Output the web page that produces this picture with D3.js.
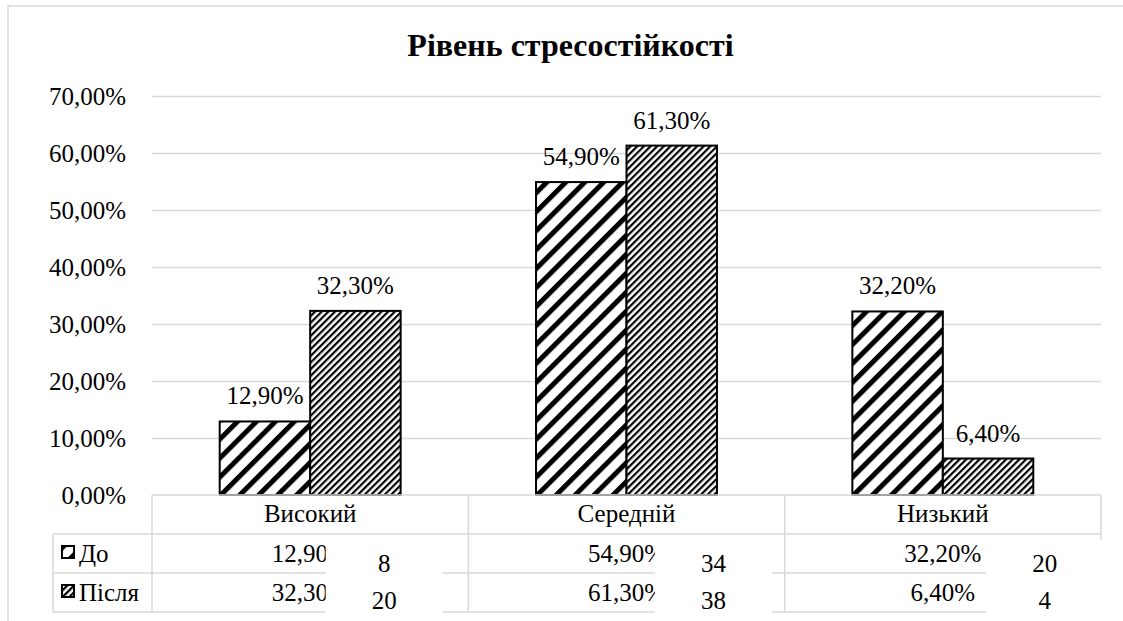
<!DOCTYPE html>
<html>
<head>
<meta charset="utf-8">
<script src="https://cdn.jsdelivr.net/npm/d3@7"></script>
</head>
<body style="margin:0">
<svg id="chart" width="1123" height="621"></svg>
<script>
// Рівень стресостійкості: частки респондентів до та після
const categories = ["Високий", "Середній", "Низький"];
const seriesNames = ["До", "Після"];
const valuesBefore = [0.129, 0.549, 0.322];
const valuesAfter = [0.323, 0.613, 0.064];
// кількість осіб у кожній групі (підписи поверх таблиці)
const countsBefore = [8, 34, 20];
const countsAfter = [20, 38, 4];
const yTickValues = [0, 0.1, 0.2, 0.3, 0.4, 0.5, 0.6, 0.7];
const titleText = "Рівень стресостійкості";

const series = [valuesBefore, valuesAfter];
const counts = [countsBefore, countsAfter];

const uaLocale = d3.formatLocale({ decimal: ",", thousands: " ", grouping: [3], currency: ["", " ₴"] });
const fmtPct = uaLocale.format(".2%");

const SERIF = '"Liberation Serif"';
const svg = d3.select("#chart");

// layout
const plot = { left: 152, right: 1101, top: 96, bottom: 495 };
const rowH = 39;
const legendLeft = 53;
const grid = "#d9d9d9";
const fontSize = 25;

// hatch patterns (upward diagonals)
const defs = svg.append("defs");
function hatch(id, period, stroke) {
  const p = defs.append("pattern")
    .attr("id", id)
    .attr("patternUnits", "userSpaceOnUse")
    .attr("width", period).attr("height", period)
    .attr("patternTransform", "rotate(45)");
  p.append("rect").attr("width", period).attr("height", period).attr("fill", "#fff");
  p.append("rect").attr("x", 0).attr("y", 0).attr("width", stroke).attr("height", period).attr("fill", "#000");
}
hatch("hatchWide", 13.4, 5);
hatch("hatchNarrow", 4.7, 2.2);
const fills = ["url(#hatchWide)", "url(#hatchNarrow)"];

// chart frame: only the left and top edges fall inside the page
svg.append("path")
  .attr("d", "M8,621V6H1123")
  .attr("fill", "none").attr("stroke", grid).attr("stroke-width", 1.5);

// scales
const x0 = d3.scaleBand().domain(categories).range([plot.left, plot.right])
  .paddingInner(0.428).paddingOuter(0.214);
const x1 = d3.scaleBand().domain(seriesNames).range([0, x0.bandwidth()]);
const y = d3.scaleLinear().domain([0, 0.7]).range([plot.bottom, plot.top]);

// gridlines
const gridAxis = d3.axisLeft(y).tickValues(yTickValues.slice(1))
  .tickSize(-(plot.right - plot.left)).tickFormat("");
const gg = svg.append("g").attr("transform", `translate(${plot.left},0)`).call(gridAxis);
gg.select(".domain").remove();
gg.selectAll("line").attr("stroke", grid).attr("stroke-width", 1.5);

// y tick labels
const yAxis = d3.axisLeft(y).tickValues(yTickValues).tickSize(0).tickPadding(0).tickFormat(fmtPct);
const ya = svg.append("g").attr("transform", `translate(126,0)`).call(yAxis);
ya.select(".domain").remove();
ya.attr("font-size", fontSize).attr("font-family", null);

// bars
const groups = svg.append("g").selectAll("g")
  .data(categories).join("g")
  .attr("transform", d => `translate(${x0(d)},0)`);

seriesNames.forEach((s, si) => {
  groups.append("rect")
    .attr("x", x1(s))
    .attr("y", (d, ci) => y(series[si][ci]))
    .attr("width", x1.bandwidth())
    .attr("height", (d, ci) => y(0) - y(series[si][ci]))
    .attr("fill", fills[si])
    .attr("stroke", "#000").attr("stroke-width", 2);

  groups.append("text")
    .attr("x", x1(s) + x1.bandwidth() / 2)
    .attr("y", (d, ci) => y(series[si][ci]) - 17)
    .attr("text-anchor", "middle")
    .attr("font-size", fontSize)
    .text((d, ci) => fmtPct(series[si][ci]));
});

// data table
const table = svg.append("g");
const tTop = plot.bottom;
const rowsY = [tTop, tTop + rowH, tTop + 2 * rowH, tTop + 3 * rowH];
const step = x0.step();
const cellEdges = categories.map((c, i) => plot.left + i * step).concat([plot.right]);

// horizontal rules
table.append("line").attr("x1", plot.left).attr("x2", plot.right).attr("y1", rowsY[0]).attr("y2", rowsY[0]);
[1, 2, 3].forEach(r => table.append("line")
  .attr("x1", legendLeft).attr("x2", plot.right).attr("y1", rowsY[r]).attr("y2", rowsY[r]));
// vertical rules
cellEdges.forEach(xv => table.append("line")
  .attr("x1", xv).attr("x2", xv).attr("y1", rowsY[0]).attr("y2", rowsY[3]));
table.append("line").attr("x1", legendLeft).attr("x2", legendLeft).attr("y1", rowsY[1]).attr("y2", rowsY[3]);
table.selectAll("line").attr("stroke", grid).attr("stroke-width", 1.5);

// header row: category names
table.selectAll("text.cat").data(categories).join("text")
  .attr("class", "cat")
  .attr("x", d => x0(d) + x0.bandwidth() / 2)
  .attr("y", rowsY[0] + 27)
  .attr("text-anchor", "middle")
  .attr("font-size", fontSize)
  .text(d => d);

// value rows + legend keys
seriesNames.forEach((s, si) => {
  const base = rowsY[si + 1] + 28;
  table.append("rect")
    .attr("x", 62).attr("y", rowsY[si + 1] + 12)
    .attr("width", 12).attr("height", 12)
    .attr("fill", fills[si]).attr("stroke", "#000").attr("stroke-width", 2);
  table.append("text")
    .attr("x", 79).attr("y", base)
    .attr("font-size", fontSize)
    .text(s);
  table.selectAll(null).data(categories).join("text")
    .attr("x", d => x0(d) + x0.bandwidth() / 2)
    .attr("y", base)
    .attr("text-anchor", "middle")
    .attr("font-size", fontSize)
    .text((d, ci) => fmtPct(series[si][ci]));
});

// count boxes laid over the table
const boxOffsets = [74, 87, 102];
const boxW = 117;
const notes = svg.append("g").selectAll("g")
  .data(categories).join("g")
  .attr("transform", (d, i) => `translate(${x0(d) + x0.bandwidth() / 2 + boxOffsets[i] - boxW / 2},540)`);
notes.append("rect").attr("width", boxW).attr("height", 90).attr("fill", "#fff");
counts.forEach((arr, si) => {
  notes.append("text")
    .attr("x", boxW / 2)
    .attr("y", si === 0 ? 32 : 69)
    .attr("text-anchor", "middle")
    .attr("font-size", fontSize)
    .text((d, i) => arr[i]);
});

// title
svg.append("text")
  .attr("x", 570.5).attr("y", 56)
  .attr("text-anchor", "middle")
  .attr("font-size", 32).attr("font-weight", "bold")
  .text(titleText);

svg.selectAll("text").style("font-family", SERIF).attr("fill", "#000");
</script>
</body>
</html>
